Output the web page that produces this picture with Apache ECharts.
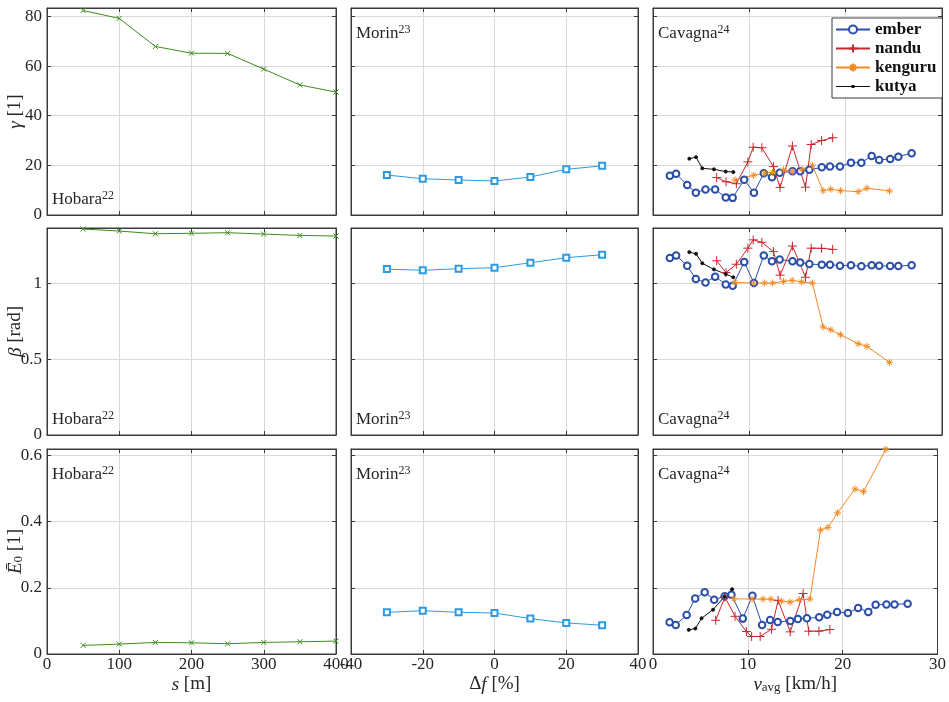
<!DOCTYPE html>
<html>
<head>
<meta charset="utf-8">
<script src="https://cdn.jsdelivr.net/npm/echarts@6.0.0/dist/echarts.min.js"></script>
<style>
  html, body { margin: 0; padding: 0; background: #fff; }
  #root { width: 949px; height: 702px; }
</style>
</head>
<body>
<div id="root"></div>
<script>
// Hobara: s [m]
const hobaraS = [50, 100, 150, 200, 250, 300, 350, 400]
const hobaraGamma = [82.4, 79.2, 67.9, 65.2, 65.1, 58.8, 52.4, 49.5]
const hobaraBeta = [1.358, 1.345, 1.327, 1.330, 1.334, 1.325, 1.316, 1.312]
const hobaraE0 = [0.026, 0.030, 0.035, 0.034, 0.031, 0.035, 0.037, 0.039]

// Morin: delta f [%]
const morinDf = [-30, -20, -10, 0, 10, 20, 30]
const morinGamma = [16.1, 14.6, 14.1, 13.7, 15.3, 18.4, 19.8]
const morinBeta = [1.094, 1.086, 1.097, 1.103, 1.136, 1.169, 1.189]
const morinE0 = [0.126, 0.131, 0.126, 0.124, 0.107, 0.094, 0.087]

// Cavagna: v_avg [km/h]
const emberV = [1.75, 2.4, 3.55, 4.45, 5.45, 6.45, 7.55, 8.27, 9.47, 10.48, 11.5, 12.35, 13.15, 14.48, 15.28, 16.23, 17.52, 18.37, 19.41, 20.55, 21.63, 22.7, 23.48, 24.62, 25.47, 26.85]
const emberGamma = [15.8, 16.6, 12.1, 9.0, 10.3, 10.3, 7.1, 6.9, 14.2, 9.0, 16.8, 15.2, 17.0, 17.6, 17.6, 18.2, 19.2, 19.5, 19.5, 21.1, 21.1, 23.8, 22.2, 22.6, 23.5, 24.9]
const emberBeta = [1.167, 1.184, 1.116, 1.028, 1.006, 1.044, 0.993, 0.984, 1.140, 1.002, 1.184, 1.145, 1.158, 1.145, 1.138, 1.127, 1.123, 1.123, 1.116, 1.120, 1.112, 1.120, 1.116, 1.114, 1.114, 1.120]
const emberE0 = [0.096, 0.088, 0.118, 0.168, 0.187, 0.164, 0.175, 0.179, 0.107, 0.176, 0.088, 0.103, 0.097, 0.100, 0.106, 0.108, 0.111, 0.119, 0.127, 0.124, 0.139, 0.127, 0.149, 0.150, 0.150, 0.152]

const nanduV = [6.61, 7.58, 8.65, 9.85, 10.4, 11.3, 12.5, 13.19, 14.47, 15.83, 16.42, 17.5, 18.65]
const nanduGamma = [15.1, 13.4, 12.6, 21.4, 27.3, 27.1, 19.5, 11.1, 27.8, 11.2, 28.4, 30.0, 31.1]
const nanduBeta = [1.149, 1.071, 1.126, 1.232, 1.287, 1.271, 1.209, 1.054, 1.246, 1.040, 1.232, 1.231, 1.224]
const nanduE0 = [0.102, 0.172, 0.114, 0.068, 0.053, 0.053, 0.075, 0.162, 0.067, 0.183, 0.069, 0.069, 0.074]

const kenguruV = [8.52, 10.45, 11.6, 12.42, 13.55, 14.45, 15.43, 16.55, 17.66, 18.45, 19.46, 21.3, 22.2, 24.55]
const kenguruGamma = [14.1, 16.0, 16.8, 17.2, 18.2, 17.5, 18.4, 19.9, 9.8, 10.4, 9.8, 9.4, 10.8, 9.7]
const kenguruBeta = [1.006, 1.002, 1.002, 1.002, 1.013, 1.020, 1.009, 1.002, 0.712, 0.694, 0.661, 0.602, 0.585, 0.479]
const kenguruE0 = [0.167, 0.166, 0.166, 0.166, 0.160, 0.157, 0.164, 0.166, 0.375, 0.383, 0.427, 0.499, 0.491, 0.619]

const kutyaV = [3.77, 4.47, 5.12, 6.33, 7.55, 8.34]
const kutyaGamma = [22.7, 23.3, 18.8, 18.4, 17.5, 17.3]
const kutyaBeta = [1.206, 1.195, 1.132, 1.092, 1.061, 1.040]
const kutyaE0 = [0.073, 0.077, 0.108, 0.134, 0.174, 0.196]

// axis ranges and tick steps
const xRanges = [[0, 400, 100], [-40, 40, 20], [0, 30, 10]]
const yRanges = [[0, 83.4, 20], [0, 1.365, 0.5], [0, 0.62, 0.2]]
const sourceLabels = ['Hobara', 'Morin', 'Cavagna']
const sourceRefs = ['22', '23', '24']
const legendNames = ['ember', 'nandu', 'kenguru', 'kutya']

const FONT = 'Liberation Serif'
const TXT = '#262626'
const EDGE = '#3a3a3a'

const colLeft = [47, 351, 653]
const colWidth = [289, 287, 289]
const rowTop = [8, 228, 449]
const rowHeight = [207, 207, 205]

const plusPath = 'path://M5,0L5,10M0,5L10,5'
const crossPath = 'path://M0,0L10,10M0,10L10,0'
const starPath = 'path://M5,0L5,10M0,5L10,5M1.6,1.6L8.4,8.4M1.6,8.4L8.4,1.6'
// legend icon for kutya: thin line with a small dot
const dotLineIcon = 'path://M0,0.9L34,0.9L34,1.9L0,1.9Z M15.5,0L18.5,0L18.5,2.8L15.5,2.8Z'

const pairs = (xs, ys) => xs.map((x, i) => [x, ys[i]])

const xNames = ['{i|s} [m]', '{n|Δ}{i|f} [%]', '{i|v}{sub|avg} [km/h]']
const yNames = ['{i|γ} [1]', '{i|β} [rad]', '{i|Ē}{sub|0} [1]']
const nameRich = {
  i: { fontFamily: FONT, fontSize: 19, fontStyle: 'italic', color: TXT },
  n: { fontFamily: FONT, fontSize: 19, color: TXT },
  sub: { fontFamily: FONT, fontSize: 13, color: TXT, verticalAlign: 'bottom', padding: [6, 0, 0, 0] }
}

const grids = []
const xAxes = []
const yAxes = []
const mirrorX = []
const mirrorY = []
const titles = []
for (let r = 0; r < 3; r++) {
  for (let c = 0; c < 3; c++) {
    const idx = r * 3 + c
    grids.push({
      left: colLeft[c], top: rowTop[r], width: colWidth[c], height: rowHeight[r],
      show: true, borderColor: EDGE, borderWidth: 1, backgroundColor: 'transparent'
    })
    const [xmin, xmax, xint] = xRanges[c]
    const [ymin, ymax, yint] = yRanges[r]
    xAxes.push({
      type: 'value', gridIndex: idx, min: xmin, max: xmax, interval: xint,
      axisLine: { show: true, onZero: false, lineStyle: { color: EDGE, width: 1 } },
      axisTick: { show: true, inside: true, length: 4, lineStyle: { color: EDGE } },
      axisLabel: { show: r === 2, margin: 2, fontFamily: FONT, fontSize: 17, color: TXT },
      splitLine: { show: true, lineStyle: { color: '#d9d9d9', width: 1 } },
      name: r === 2 ? xNames[c] : '', nameLocation: 'middle', nameGap: 21, nameMoveOverlap: false,
      nameTextStyle: { fontFamily: FONT, fontSize: 19, color: TXT, rich: nameRich }
    })
    yAxes.push({
      type: 'value', gridIndex: idx, min: ymin, max: ymax, interval: yint,
      axisLine: { show: true, onZero: false, lineStyle: { color: EDGE, width: 1 } },
      axisTick: { show: true, inside: true, length: 4, lineStyle: { color: EDGE } },
      axisLabel: { show: c === 0, showMaxLabel: false, margin: 5, fontFamily: FONT, fontSize: 17, color: TXT },
      splitLine: { show: true, lineStyle: { color: '#d9d9d9', width: 1 } },
      name: c === 0 ? yNames[r] : '', nameLocation: 'middle', nameGap: 22, nameMoveOverlap: false,
      nameTextStyle: { fontFamily: FONT, fontSize: 19, color: TXT, rich: nameRich }
    })
    // box ticks on top and right edges
    mirrorX.push({
      type: 'value', gridIndex: idx, position: 'top', min: xmin, max: xmax, interval: xint,
      axisLine: { show: true, onZero: false, lineStyle: { color: EDGE, width: 1 } },
      axisTick: { show: true, inside: true, length: 4, lineStyle: { color: EDGE } },
      axisLabel: { show: false }, splitLine: { show: false }
    })
    mirrorY.push({
      type: 'value', gridIndex: idx, position: 'right', min: ymin, max: ymax, interval: yint,
      axisLine: { show: true, onZero: false, lineStyle: { color: EDGE, width: 1 } },
      axisTick: { show: true, inside: true, length: 4, lineStyle: { color: EDGE } },
      axisLabel: { show: false }, splitLine: { show: false }
    })
    // source label: bottom-left in row 2 and for Hobara in row 1, top-left elsewhere
    const atBottom = r === 1 || (r === 0 && c === 0)
    titles.push({
      text: '{a|' + sourceLabels[c] + '}{s|' + sourceRefs[c] + '}',
      left: colLeft[c] + 5,
      top: atBottom ? rowTop[r] + rowHeight[r] - 25 : rowTop[r] + 16,
      padding: 0,
      textStyle: {
        fontWeight: 'normal',
        rich: {
          a: { fontFamily: FONT, fontSize: 17, fontWeight: 'normal', color: TXT, lineHeight: 20 },
          s: { fontFamily: FONT, fontSize: 12, fontWeight: 'normal', color: TXT, verticalAlign: 'top', lineHeight: 20 }
        }
      }
    })
  }
}

const lineSeries = (name, idx, data, color, symbol, size) => ({
  name, type: 'line', xAxisIndex: idx, yAxisIndex: idx, data,
  symbol, symbolSize: size, showSymbol: true,
  lineStyle: { color, width: 1 },
  itemStyle: { color, borderColor: color, borderWidth: 1 },
  emphasis: { disabled: true }, animation: false, z: 3
})

const GREEN = '#3d8b1e'
const LBLUE = '#2e9ae0'
const BLUE = '#2b4ea8'
const RED = '#c9262d'
const ORANGE = '#f18a22'
const BLACK = '#111111'

const series = []
const hobara = [hobaraGamma, hobaraBeta, hobaraE0]
const morin = [morinGamma, morinBeta, morinE0]
const ember = [emberGamma, emberBeta, emberE0]
const nandu = [nanduGamma, nanduBeta, nanduE0]
const kenguru = [kenguruGamma, kenguruBeta, kenguruE0]
const kutya = [kutyaGamma, kutyaBeta, kutyaE0]
for (let r = 0; r < 3; r++) {
  series.push(lineSeries('Hobara', r * 3, pairs(hobaraS, hobara[r]), GREEN, crossPath, 5))
  series.push(lineSeries('Morin', r * 3 + 1, pairs(morinDf, morin[r]), LBLUE, 'emptyRect', 6))
  series.push(lineSeries('ember', r * 3 + 2, pairs(emberV, ember[r]), BLUE, 'emptyCircle', 6.5))
  series.push(lineSeries('nandu', r * 3 + 2, pairs(nanduV, nandu[r]), RED, plusPath, 9))
  series.push(lineSeries('kenguru', r * 3 + 2, pairs(kenguruV, kenguru[r]), ORANGE, starPath, 7))
  series.push(lineSeries('kutya', r * 3 + 2, pairs(kutyaV, kutya[r]), BLACK, 'circle', 3))
}

const chart = echarts.init(document.getElementById('root'), null, { renderer: 'canvas' })
chart.setOption({
  animation: false,
  backgroundColor: '#ffffff',
  title: titles,
  grid: grids,
  xAxis: xAxes.concat(mirrorX),
  yAxis: yAxes.concat(mirrorY),
  legend: {
    data: [
      { name: legendNames[0] },
      { name: legendNames[1] },
      { name: legendNames[2] },
      { name: legendNames[3], icon: dotLineIcon, itemStyle: { color: BLACK, borderWidth: 0 } }
    ],
    orient: 'vertical',
    left: 832, top: 18,
    backgroundColor: '#ffffff',
    borderColor: EDGE, borderWidth: 1, borderRadius: 0,
    padding: [3, 6, 3, 3],
    itemWidth: 34, itemHeight: 10, itemGap: 2,
    symbolKeepAspect: true,
    selectedMode: false,
    textStyle: { fontFamily: FONT, fontSize: 17, fontWeight: 'bold', color: '#111' }
  },
  series
})
</script>
</body>
</html>
